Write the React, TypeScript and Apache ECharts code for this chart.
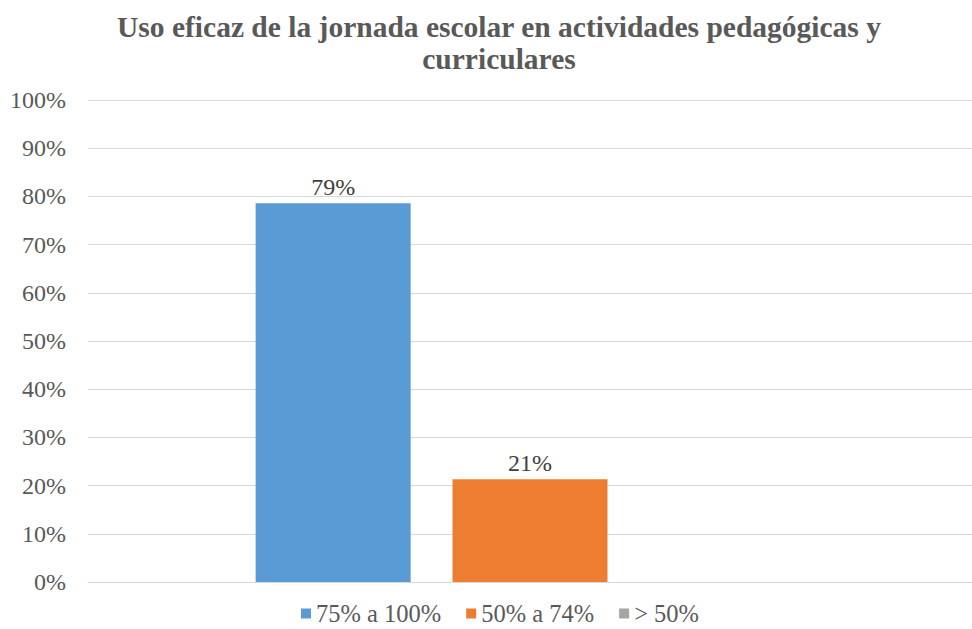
import React, { useEffect, useRef } from "react";
import * as echarts from "echarts";

const titleText = "Uso eficaz de la jornada escolar en actividades pedagógicas y\ncurriculares";
const categories = ["Uso eficaz"];
const seriesNames = ["75% a 100%", "50% a 74%", "> 50%"];
const seriesValues = [[78.6], [21.3], [0]];
const seriesColors = ["#5b9bd5", "#ed7d31", "#a5a5a5"];
const yTicks = { min: 0, max: 100, interval: 10 };

export default function App() {
  const ref = useRef<HTMLDivElement>(null);
  useEffect(() => {
    document.body.style.margin = "0";
    const chart = echarts.init(ref.current!, null, { renderer: "svg" });
    const font = "'Liberation Serif', 'Times New Roman', serif";
    chart.setOption({
      animation: false,
      backgroundColor: "#ffffff",
      title: {
        text: titleText,
        left: 494,
        textAlign: "center",
        top: 6,
        textStyle: {
          fontFamily: font,
          fontWeight: "bold",
          fontSize: 29.5,
          color: "#595959",
          lineHeight: 32,
        },
      },
      legend: {
        top: 596,
        left: 296,
        itemWidth: 10,
        itemHeight: 10,
        itemGap: 25,
        icon: "rect",
        textStyle: { fontFamily: font, fontSize: 24.5, color: "#595959" },
        data: seriesNames,
      },
      grid: { left: 88, right: 0, top: 100, bottom: 47, containLabel: false },
      xAxis: {
        type: "category",
        data: categories,
        axisLine: { lineStyle: { color: "#d9d9d9" } },
        axisTick: { show: false },
        axisLabel: { show: false },
      },
      yAxis: {
        type: "value",
        min: yTicks.min,
        max: yTicks.max,
        interval: yTicks.interval,
        axisLine: { show: false },
        axisTick: { show: false },
        splitLine: { lineStyle: { color: "#d9d9d9", width: 1 } },
        axisLabel: {
          formatter: (v: number) => v + "%",
          fontFamily: font,
          fontSize: 24,
          color: "#595959",
          margin: 22,
        },
      },
      series: seriesNames.map((name, i) => ({
        name,
        type: "bar",
        data: seriesValues[i],
        barWidth: 155,
        barGap: "27%",
        itemStyle: { color: seriesColors[i] },
        label: {
          show: seriesValues[i][0] > 0,
          position: "top",
          distance: 4,
          formatter: (p: any) => Math.round(p.value) + "%",
          fontFamily: font,
          fontSize: 24,
          color: "#404040",
        },
      })),
    });
    return () => chart.dispose();
  }, []);
  return <div ref={ref} style={{ position: "absolute", left: 0, top: 0, width: 972, height: 629 }} />;
}
